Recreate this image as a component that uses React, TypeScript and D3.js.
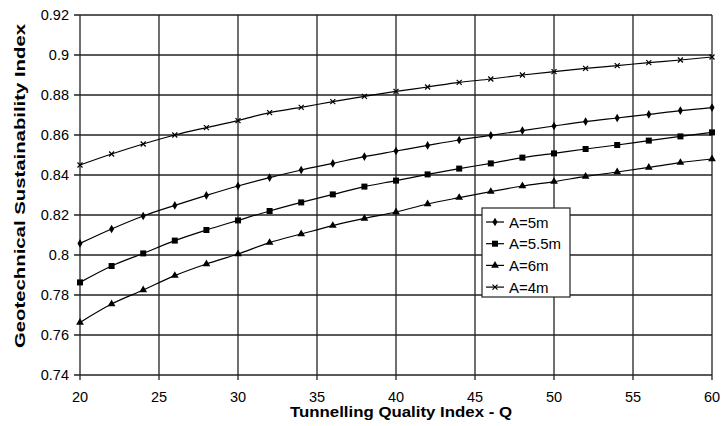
import { useEffect, useRef } from 'react';
import * as d3 from 'd3';

const qValues = [20, 22, 24, 26, 28, 30, 32, 34, 36, 38, 40, 42, 44, 46, 48, 50, 52, 54, 56, 58, 60];
const a5 = [0.8058, 0.813, 0.8195, 0.8248, 0.8298, 0.8345, 0.8387, 0.8425, 0.8458, 0.8492, 0.852, 0.8548, 0.8575, 0.8598, 0.8622, 0.8645, 0.8667, 0.8685, 0.8703, 0.8722, 0.8737];
const a55 = [0.7863, 0.7945, 0.8008, 0.8072, 0.8125, 0.8173, 0.822, 0.8263, 0.8303, 0.8342, 0.8372, 0.8403, 0.8432, 0.8458, 0.8487, 0.8508, 0.853, 0.855, 0.8572, 0.8593, 0.8613];
const a6 = [0.7663, 0.7755, 0.7825, 0.7897, 0.7955, 0.8005, 0.8062, 0.8105, 0.8147, 0.8183, 0.8215, 0.8255, 0.8287, 0.8317, 0.8345, 0.8367, 0.8393, 0.8415, 0.8438, 0.8462, 0.848];
const a4 = [0.845, 0.8505, 0.8555, 0.86, 0.8637, 0.8672, 0.8712, 0.8738, 0.8767, 0.8793, 0.8818, 0.884, 0.8863, 0.888, 0.89, 0.8917, 0.8933, 0.8947, 0.8962, 0.8975, 0.899];
const seriesNames = ['A=5m', 'A=5.5m', 'A=6m', 'A=4m'];
const seriesMarkers = ['diamond', 'square', 'triangle', 'cross'];
const xTicks = [20, 25, 30, 35, 40, 45, 50, 55, 60];
const yTicks = [0.74, 0.76, 0.78, 0.8, 0.82, 0.84, 0.86, 0.88, 0.9, 0.92];

const FONT = "'Liberation Sans', Arial, sans-serif";

function drawMarker(g: any, type: string, x: number, y: number) {
    if (type === 'diamond') {
        g.append('path').attr('d', d3.symbol(d3.symbolDiamond, 22)()).attr('transform', `translate(${x},${y})`).attr('fill', '#000');
    } else if (type === 'square') {
        g.append('rect').attr('x', x - 3).attr('y', y - 3).attr('width', 6).attr('height', 6).attr('fill', '#000');
    } else if (type === 'triangle') {
        g.append('path').attr('d', d3.symbol(d3.symbolTriangle, 26)()).attr('transform', `translate(${x},${y})`).attr('fill', '#000');
    } else {
        g.append('path').attr('d', `M${x - 2.5},${y - 2.5}L${x + 2.5},${y + 2.5}M${x - 2.5},${y + 2.5}L${x + 2.5},${y - 2.5}`)
            .attr('stroke', '#000').attr('stroke-width', 1.2);
    }
}

export default function App() {
    const svgRef = useRef(null);

    useEffect(() => {
        const svg = d3.select(svgRef.current);
        svg.selectAll('*').remove();
        const x = d3.scaleLinear().domain([20, 60]).range([80, 712]);
        const y = d3.scaleLinear().domain([0.74, 0.92]).range([375, 15]);

        // grid
        const grid = svg.append('g').attr('stroke', '#222').attr('stroke-width', 1.3);
        yTicks.forEach(t => {
            grid.append('line').attr('x1', x(20) - 6).attr('x2', x(60)).attr('y1', y(t)).attr('y2', y(t));
        });
        xTicks.forEach(t => {
            grid.append('line').attr('x1', x(t)).attr('x2', x(t)).attr('y1', y(0.92)).attr('y2', y(0.74) + 5);
        });

        // tick labels
        svg.append('g').selectAll('text').data(yTicks).join('text')
            .attr('x', 69).attr('y', d => y(d) + 5)
            .attr('text-anchor', 'end').attr('font-family', FONT).attr('font-size', 14.5)
            .text(d => String(d));
        svg.append('g').selectAll('text').data(xTicks).join('text')
            .attr('x', d => x(d)).attr('y', 402)
            .attr('text-anchor', 'middle').attr('font-family', FONT).attr('font-size', 14.5)
            .text(d => String(d));

        // titles
        svg.append('text').attr('x', 401).attr('y', 417).attr('text-anchor', 'middle')
            .attr('font-family', FONT).attr('font-size', 14).attr('font-weight', 'bold')
            .attr('textLength', 222).attr('lengthAdjust', 'spacingAndGlyphs')
            .text('Tunnelling Quality Index - Q');
        svg.append('text').attr('transform', 'translate(25,186) rotate(-90)').attr('text-anchor', 'middle')
            .attr('font-family', FONT).attr('font-size', 14).attr('font-weight', 'bold')
            .attr('textLength', 324).attr('lengthAdjust', 'spacingAndGlyphs')
            .text('Geotechnical Sustainability Index');

        const allSeries = [a5, a55, a6, a4];
        const line = d3.line<number>().x((_, i) => x(qValues[i])).y(d => y(d)).curve(d3.curveMonotoneX);
        allSeries.forEach((vals, si) => {
            svg.append('path').attr('d', line(vals)).attr('fill', 'none').attr('stroke', '#000').attr('stroke-width', 1.2);
            const mg = svg.append('g');
            vals.forEach((v, i) => drawMarker(mg, seriesMarkers[si], x(qValues[i]), y(v)));
        });

        // legend
        const lg = svg.append('g');
        lg.append('rect').attr('x', 482).attr('y', 208).attr('width', 88).attr('height', 89)
            .attr('fill', '#fff').attr('stroke', '#222').attr('stroke-width', 1.2);
        seriesNames.forEach((name, i) => {
            const ly = 222 + i * 21.7;
            lg.append('line').attr('x1', 486).attr('x2', 504).attr('y1', ly).attr('y2', ly).attr('stroke', '#000').attr('stroke-width', 1.2);
            drawMarker(lg, seriesMarkers[i], 495, ly);
            lg.append('text').attr('x', 509).attr('y', ly + 5.5).attr('font-family', FONT).attr('font-size', 15).text(name);
        });
    }, []);

    return (
        <div style={{ position: 'absolute', left: 0, top: 0 }}>
            <svg ref={svgRef} width={721} height={426} style={{ display: 'block', background: '#fff' }} />
        </div>
    );
}
